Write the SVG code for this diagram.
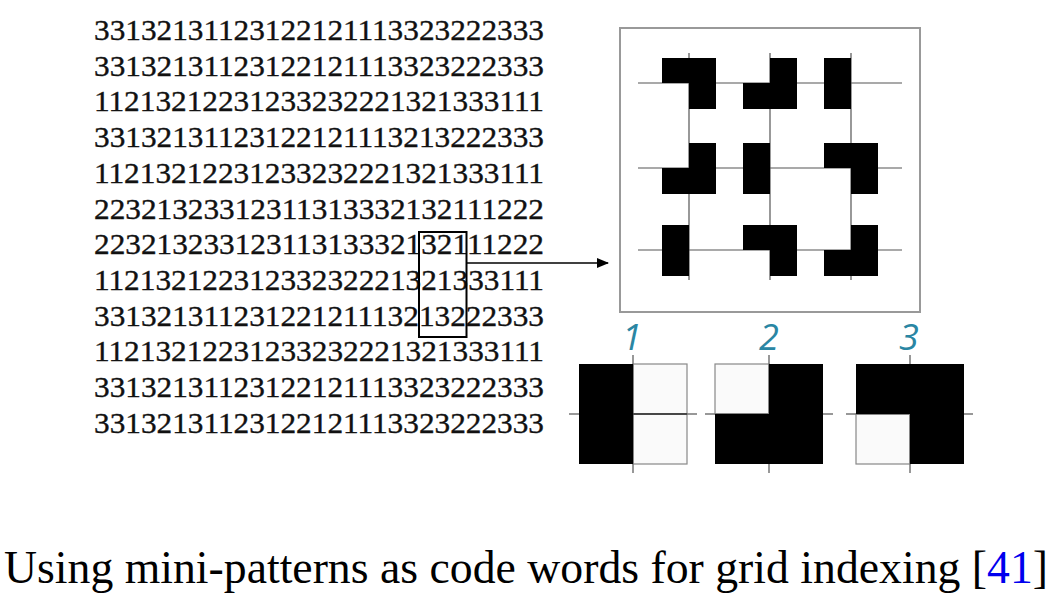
<svg xmlns="http://www.w3.org/2000/svg" xmlns:xlink="http://www.w3.org/1999/xlink" width="1053" height="597" viewBox="0 0 1053 597">
<style>
.dg{font-family:"Liberation Serif","Times New Roman",serif;font-size:29px;fill:#111;stroke:#111;stroke-width:0.35}
.cap{font-family:"Liberation Serif","Times New Roman",serif;font-size:47px;fill:#000}
.lbl{font-family:"Open Sans","Noto Sans",sans-serif;font-style:italic;font-size:36px;fill:#2a86a3;text-anchor:middle}
.gl{stroke:#555;stroke-width:1.2;fill:none}
.lg{stroke:#777;stroke-width:1.5;fill:none}
.wc{fill:#fafafa;stroke:#888;stroke-width:1.2}
.blk{fill:#000}
</style>
<defs>
<path id="p1" class="blk" d="M-27,-25H0V26H-27Z"/>
<path id="p2" class="blk" d="M0,-25H27V26H-27V0H0Z"/>
<path id="p3" class="blk" d="M-27,-25H27V26H0V0H-27Z"/>
<marker id="ah" markerWidth="12" markerHeight="10" refX="11" refY="5" orient="auto" markerUnits="userSpaceOnUse">
<path d="M0,0L12,5L0,10Z" fill="#000"/>
</marker>
</defs>
<g id="code-matrix">
<text class="dg" x="94" y="40" textLength="450" lengthAdjust="spacingAndGlyphs">33132131123122121113323222333</text>
<text class="dg" x="94" y="75.7" textLength="450" lengthAdjust="spacingAndGlyphs">33132131123122121113323222333</text>
<text class="dg" x="94" y="111.4" textLength="450" lengthAdjust="spacingAndGlyphs">11213212231233232221321333111</text>
<text class="dg" x="94" y="147.1" textLength="450" lengthAdjust="spacingAndGlyphs">33132131123122121113213222333</text>
<text class="dg" x="94" y="182.8" textLength="450" lengthAdjust="spacingAndGlyphs">11213212231233232221321333111</text>
<text class="dg" x="94" y="218.5" textLength="450" lengthAdjust="spacingAndGlyphs">22321323312311313332132111222</text>
<text class="dg" x="94" y="254.2" textLength="450" lengthAdjust="spacingAndGlyphs">22321323312311313332132111222</text>
<text class="dg" x="94" y="289.9" textLength="450" lengthAdjust="spacingAndGlyphs">11213212231233232221321333111</text>
<text class="dg" x="94" y="325.6" textLength="450" lengthAdjust="spacingAndGlyphs">33132131123122121113213222333</text>
<text class="dg" x="94" y="361.3" textLength="450" lengthAdjust="spacingAndGlyphs">11213212231233232221321333111</text>
<text class="dg" x="94" y="397" textLength="450" lengthAdjust="spacingAndGlyphs">33132131123122121113323222333</text>
<text class="dg" x="94" y="432.7" textLength="450" lengthAdjust="spacingAndGlyphs">33132131123122121113323222333</text>
</g>
<g id="highlight-window">
<rect x="419" y="232" width="47.5" height="105" fill="none" stroke="#000" stroke-width="2"/>
</g>
<g id="pattern-grid">
<rect x="620" y="28" width="300" height="284" fill="#fff" stroke="#999" stroke-width="2"/>
<path class="gl" d="M638,83H902M638,168H902M638,250H902M689,53V280M770,53V280M851,53V280"/>
<use xlink:href="#p3" x="689" y="83"/>
<use xlink:href="#p2" x="770" y="83"/>
<use xlink:href="#p1" x="851" y="83"/>
<use xlink:href="#p2" x="689" y="168"/>
<use xlink:href="#p1" x="770" y="168"/>
<use xlink:href="#p3" x="851" y="168"/>
<use xlink:href="#p1" x="689" y="250"/>
<use xlink:href="#p3" x="770" y="250"/>
<use xlink:href="#p2" x="851" y="250"/>
</g>
<g id="legend-1">
<text class="lbl" x="632" y="350">1</text>
<rect class="wc" x="633" y="364" width="54" height="50"/>
<rect class="wc" x="633" y="414" width="54" height="50"/>
<path class="lg" d="M569,414H697M633,355V473"/>
<path stroke="#333" stroke-width="1.5" d="M633,414H687"/>
<rect class="blk" x="579" y="364" width="54" height="100"/>
</g>
<g id="legend-2">
<text class="lbl" x="769" y="350">2</text>
<rect class="wc" x="715" y="364" width="54" height="50"/>
<path class="lg" d="M705,414H833M769,355V473"/>
<path class="blk" d="M769,364H823V464H715V414H769Z"/>
</g>
<g id="legend-3">
<text class="lbl" x="909" y="350">3</text>
<rect class="wc" x="856" y="414" width="54" height="50"/>
<path class="lg" d="M846,414H973M910,355V473"/>
<path class="blk" d="M856,364H964V464H910V414H856Z"/>
</g>
<g id="connectors">
<path d="M466,263H608" stroke="#000" stroke-width="1.5" fill="none" marker-end="url(#ah)"/>
</g>
<g id="caption">
<text class="cap" x="4" y="583" textLength="1044" lengthAdjust="spacingAndGlyphs">Using mini-patterns as code words for grid indexing [<tspan fill="#0000ee">41</tspan>]</text>
</g>
</svg>
